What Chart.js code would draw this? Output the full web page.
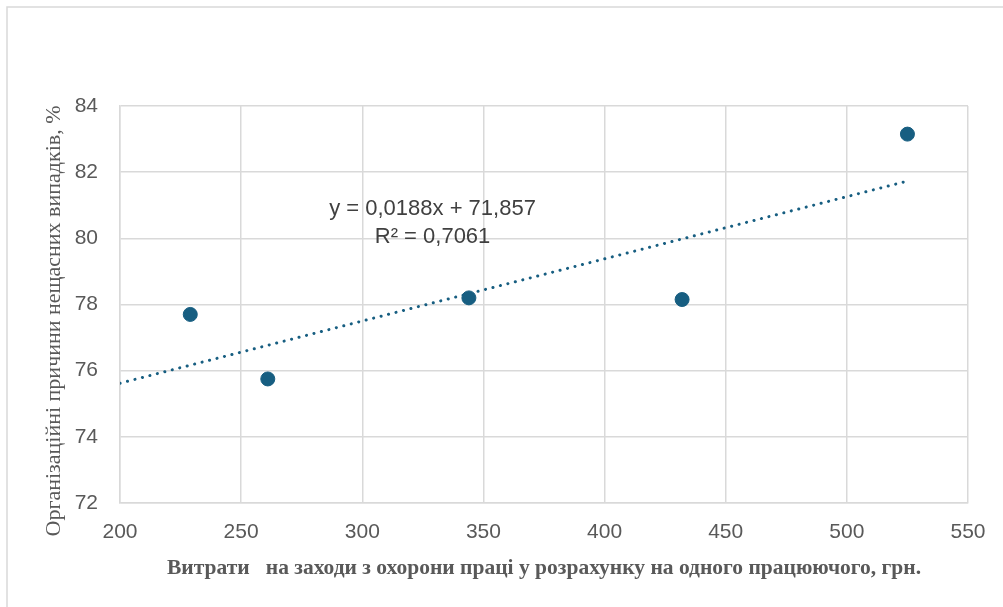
<!DOCTYPE html>
<html>
<head>
<meta charset="utf-8">
<script src="https://cdn.jsdelivr.net/npm/chart.js@4"></script>
<style>
html,body{margin:0;padding:0;background:#fff;}
#wrap{position:relative;width:1003px;height:607px;}
</style>
</head>
<body>
<div id="wrap"><canvas id="c" width="1003" height="607"></canvas></div>
<script>
// Data
const xValues = [229, 261, 344, 432, 525];
const yValues = [77.7, 75.75, 78.2, 78.15, 83.15];
const trendX = [200, 525];
const trendY = [75.62, 81.73];
const equationLines = ["y = 0,0188x + 71,857", "R² = 0,7061"];
const xTitle = "Витрати   на заходи з охорони праці у розрахунку на одного працюючого, грн.";
const yTitle = "Організаційні причини нещасних випадків, %";
const xTicks = [200, 250, 300, 350, 400, 450, 500, 550];
const yTicks = [72, 74, 76, 78, 80, 82, 84];

const col = '#175E81';
const grid = '#D9D9D9';
const txt = '#595959';

const points = xValues.map((x, i) => ({x, y: yValues[i]}));
const trend = trendX.map((x, i) => ({x, y: trendY[i]}));

const framePlugin = {
  id: 'frame',
  beforeDraw(chart) {
    const ctx = chart.ctx;
    ctx.save();
    ctx.fillStyle = '#fff';
    ctx.fillRect(0, 0, chart.width, chart.height);
    ctx.strokeStyle = '#D9D9D9';
    ctx.lineWidth = 1.5;
    ctx.strokeRect(7, 7, 1010, 620);
    ctx.restore();
  },
  afterDraw(chart) {
    const ctx = chart.ctx;
    ctx.save();
    ctx.fillStyle = txt;
    ctx.font = '22px "Liberation Serif", "Times New Roman", serif';
    ctx.textAlign = 'center';
    ctx.textBaseline = 'middle';
    ctx.translate(54, 321);
    ctx.rotate(-Math.PI / 2);
    ctx.fillText(yTitle, 0, 0);
    ctx.restore();
  },
  afterDatasetsDraw(chart) {
    const ctx = chart.ctx;
    const xs = chart.scales.x, ys = chart.scales.y;
    ctx.save();
    ctx.fillStyle = '#404040';
    ctx.font = '22px "Liberation Sans", Arial, sans-serif';
    ctx.textAlign = 'center';
    ctx.textBaseline = 'middle';
    const cx = xs.getPixelForValue(329);
    ctx.fillText(equationLines[0], cx, ys.getPixelForValue(80.9));
    ctx.fillText(equationLines[1], cx, ys.getPixelForValue(80.05));
    ctx.restore();
  }
};

new Chart(document.getElementById('c'), {
  type: 'scatter',
  data: {
    datasets: [
      {
        label: 'data',
        data: points,
        backgroundColor: col,
        borderColor: col,
        pointRadius: 7,
        pointHoverRadius: 7,
        order: 1
      },
      {
        label: 'trend',
        type: 'line',
        data: trend,
        borderColor: col,
        borderWidth: 3,
        borderDash: [0.1, 7.6],
        borderCapStyle: 'round',
        pointRadius: 0,
        fill: false,
        order: 2
      }
    ]
  },
  options: {
    responsive: false,
    animation: false,
    layout: {padding: {top: 106, right: 35, bottom: 0, left: 0}},
    plugins: {legend: {display: false}, tooltip: {enabled: false}},
    scales: {
      x: {
        type: 'linear',
        min: 200, max: 550,
        afterBuildTicks(s) { s.ticks = xTicks.map(v => ({value: v})); },
        afterFit(s) { s.height = 104; },
        grid: {color: grid, lineWidth: 1.5, drawTicks: false},
        border: {color: grid, width: 1.5},
        ticks: {color: txt, font: {family: '"Liberation Sans", Arial, sans-serif', size: 21}, padding: 17, maxRotation: 0},
        title: {
          display: true, text: xTitle, color: txt,
          font: {family: '"Liberation Serif", "Times New Roman", serif', size: 21.5, weight: 'bold'},
          padding: {top: 0, bottom: 26}
        }
      },
      y: {
        min: 72, max: 84,
        afterBuildTicks(s) { s.ticks = yTicks.map(v => ({value: v})); },
        afterFit(s) { s.width = 120; },
        grid: {color: grid, lineWidth: 1.5, drawTicks: false},
        border: {color: grid, width: 1.5},
        ticks: {color: txt, font: {family: '"Liberation Sans", Arial, sans-serif', size: 21}, padding: 22},
        title: {display: false, text: yTitle}
      }
    }
  },
  plugins: [framePlugin]
});
</script>
</body>
</html>
